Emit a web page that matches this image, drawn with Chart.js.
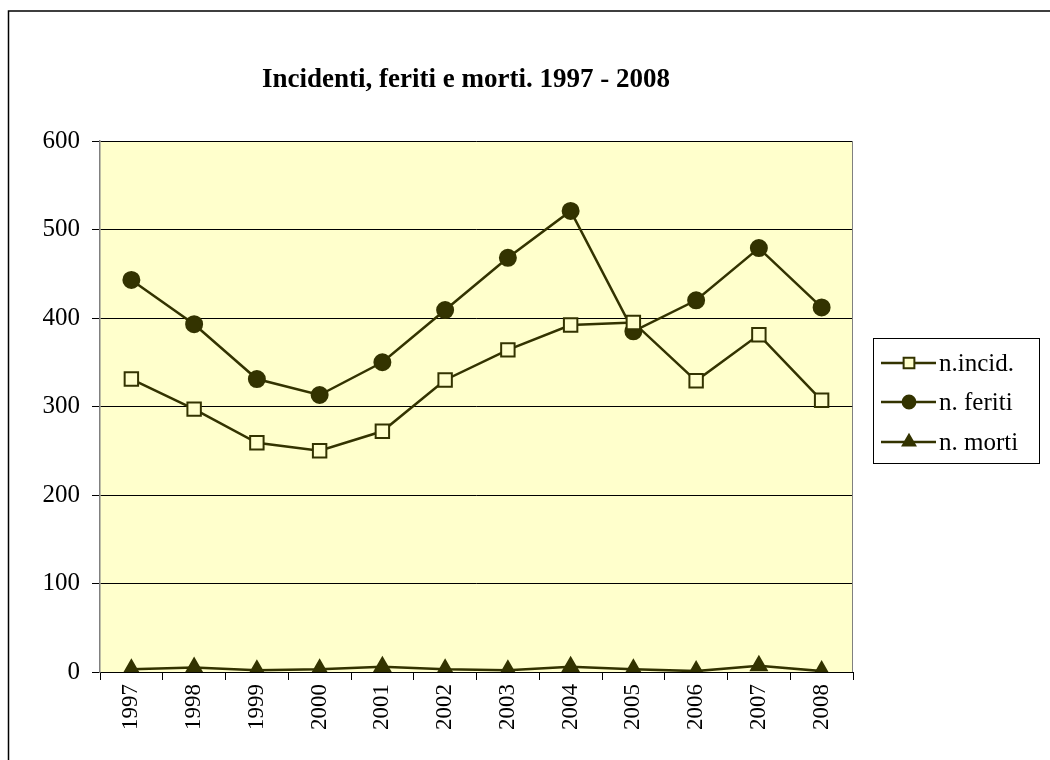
<!DOCTYPE html>
<html lang="it">
<head>
<meta charset="UTF-8">
<title>Incidenti, feriti e morti</title>
<script src="https://cdn.jsdelivr.net/npm/chart.js"></script>
<style>
  body { margin: 0; background: #fff; }
  #grafico { display: block; }
</style>
</head>
<body>
<canvas id="grafico" width="1050" height="760"></canvas>
<script>
// dati
const anni = ["1997", "1998", "1999", "2000", "2001", "2002", "2003", "2004", "2005", "2006", "2007", "2008"];
const incidenti = [331, 297, 259, 250, 272, 330, 364, 392, 395, 329, 381, 307];
const feriti = [443, 393, 331, 313, 350, 409, 468, 521, 385, 420, 479, 412];
const morti = [3, 5, 2, 3, 6, 3, 2, 6, 3, 1, 7, 1];
const etichette = ["n.incid.", "n. feriti", "n. morti"];
const titolo = "Incidenti, feriti e morti. 1997 - 2008";

const scuro = "#333300";
const sfondo = "#FFFFCC";
const serif = "'Liberation Serif', 'Times New Roman', serif";

// cornice esterna, sfondo dell'area e titolo
const cornice = {
  id: "cornice",
  beforeDraw(chart) {
    const ctx = chart.ctx, a = chart.chartArea;
    ctx.save();
    ctx.fillStyle = "#fff";
    ctx.fillRect(0, 0, chart.width, chart.height);
    ctx.strokeStyle = "#000";
    ctx.lineWidth = 1.5;
    ctx.strokeRect(8.5, 11, chart.width + 20, chart.height + 20);
    ctx.fillStyle = sfondo;
    ctx.fillRect(a.left, a.top, a.right - a.left, a.bottom - a.top);
    ctx.fillStyle = "#000";
    ctx.font = "bold 27px " + serif;
    ctx.textAlign = "center";
    ctx.textBaseline = "middle";
    ctx.fillText(titolo, 466, 80);
    ctx.restore();
  },
  afterDatasetsDraw(chart) {
    const ctx = chart.ctx, a = chart.chartArea;
    ctx.save();
    ctx.strokeStyle = "#808080";
    ctx.lineWidth = 1;
    ctx.beginPath();
    ctx.moveTo(a.right - 0.5, a.top);
    ctx.lineTo(a.right - 0.5, a.bottom);
    ctx.stroke();
    ctx.restore();
  }
};

// legenda con linea e simbolo, come nell'originale
const legenda = {
  id: "legenda",
  afterDraw(chart) {
    const ctx = chart.ctx;
    const x0 = 873, y0 = 338, w = 166, h = 125;
    ctx.save();
    ctx.fillStyle = "#fff";
    ctx.fillRect(x0, y0, w, h);
    ctx.strokeStyle = "#000";
    ctx.lineWidth = 1;
    ctx.strokeRect(x0 + 0.5, y0 + 0.5, w, h);
    ctx.font = "25px " + serif;
    ctx.textBaseline = "middle";
    const righe = [363, 402, 442];
    chart.data.datasets.forEach((ds, i) => {
      const y = righe[i];
      ctx.strokeStyle = scuro;
      ctx.lineWidth = 2.5;
      ctx.beginPath();
      ctx.moveTo(881, y);
      ctx.lineTo(936, y);
      ctx.stroke();
      ctx.fillStyle = ds.pointBackgroundColor;
      ctx.strokeStyle = scuro;
      ctx.lineWidth = ds.pointBorderWidth;
      Chart.helpers.drawPoint(ctx, {
        pointStyle: ds.pointStyle,
        radius: ds.pointRadius * 0.8,
        borderWidth: ds.pointBorderWidth
      }, 909, y);
      ctx.fillStyle = "#000";
      ctx.fillText(ds.label, 939, y + 1);
    });
    ctx.restore();
  }
};

function serie(label, dati, stile, fondo, raggio) {
  return {
    label: label,
    data: dati,
    borderColor: scuro,
    borderWidth: 2.5,
    tension: 0,
    pointStyle: stile,
    pointRadius: raggio,
    pointHoverRadius: raggio,
    pointBackgroundColor: fondo,
    pointBorderColor: scuro,
    pointBorderWidth: 2
  };
}

const ctx = document.getElementById("grafico").getContext("2d");
new Chart(ctx, {
  type: "line",
  data: {
    labels: anni,
    datasets: [
      serie(etichette[0], incidenti, "rect", sfondo, 9.5),
      serie(etichette[1], feriti, "circle", scuro, 8),
      serie(etichette[2], morti, "triangle", scuro, 9)
    ]
  },
  options: {
    responsive: false,
    animation: false,
    devicePixelRatio: 1,
    layout: { padding: { left: 0, right: 197, top: 141, bottom: 0 } },
    plugins: {
      legend: { display: false },
      tooltip: { enabled: false },
      title: { display: false }
    },
    scales: {
      x: {
        offset: true,
        grid: {
          offset: true,
          drawOnChartArea: false,
          color: "#000",
          tickLength: 8
        },
        border: { color: "#000", width: 1 },
        ticks: {
          color: "#000",
          minRotation: 90,
          maxRotation: 90,
          padding: 4,
          font: { family: serif, size: 23 }
        },
        afterFit(scale) { scale.height = 88; }
      },
      y: {
        min: 0,
        max: 600,
        ticks: {
          stepSize: 100,
          color: "#000",
          padding: 12,
          font: { family: serif, size: 25 }
        },
        grid: { color: "#000", tickLength: 8, lineWidth: 1 },
        border: { color: "#808080", width: 1.5 },
        afterFit(scale) { scale.width = 100; }
      }
    }
  },
  plugins: [cornice, legenda]
});
</script>
</body>
</html>
